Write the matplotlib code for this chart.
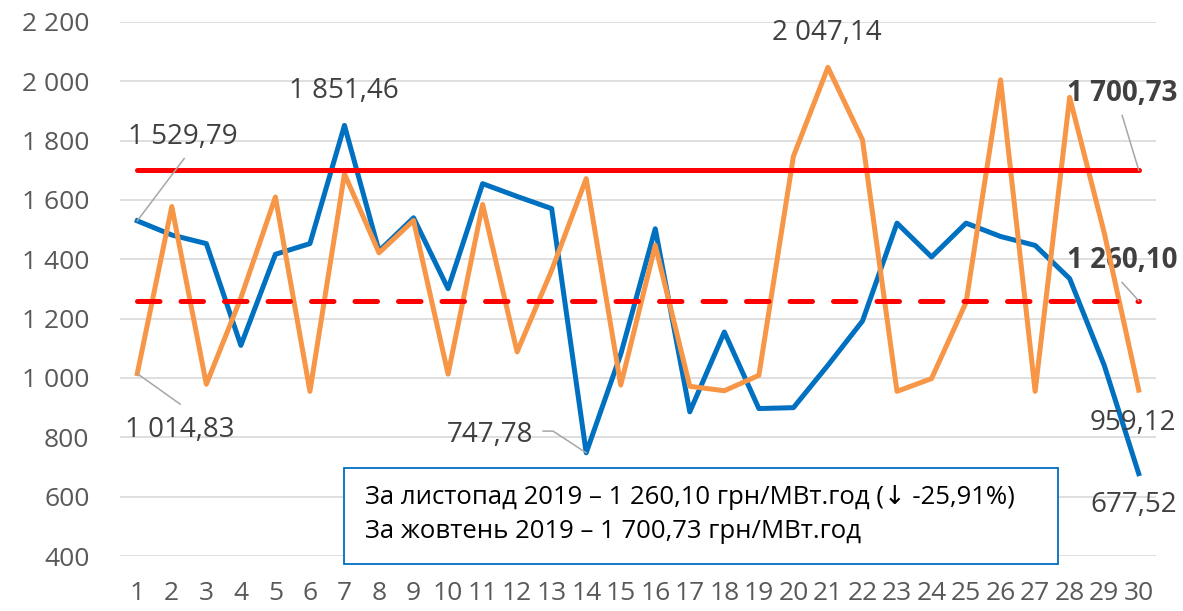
import matplotlib
matplotlib.use("Agg")
import matplotlib.pyplot as plt
from matplotlib.patches import Rectangle

# ---- data ----
days = list(range(1, 31))
nov = [1529.79, 1482, 1453, 1110, 1417, 1453, 1851.46, 1428, 1540, 1301,
       1655, 1612, 1571, 747.78, 1080, 1503, 886, 1155, 897, 900,
       1043, 1192, 1522, 1408, 1522, 1477, 1447, 1335, 1043, 677.52]
octo = [1014.83, 1578, 979, 1270, 1610, 955, 1688, 1422, 1531, 1013,
        1585, 1088, 1363, 1672, 976, 1447, 972, 957, 1009, 1747,
        2047.14, 1803, 955, 998, 1255, 2005, 955, 1946, 1490, 959.12]
avg_oct = 1700.73
avg_nov = 1260.10
yticks = [400, 600, 800, 1000, 1200, 1400, 1600, 1800, 2000, 2200]
ytick_labels = ["400", "600", "800", "1 000", "1 200", "1 400", "1 600", "1 800", "2 000", "2 200"]
box_lines = ["За листопад 2019 – 1 260,10 грн/МВт.год (↓ -25,91%)",
             "За жовтень 2019 – 1 700,73 грн/МВт.год"]

plt.rcParams['font.family'] = ['Open Sans', 'DejaVu Sans']

W, H = 1183, 611
fig = plt.figure(figsize=(W / 100, H / 100), dpi=100)
ax = fig.add_axes([120 / W, 1 - 556 / H, (1156 - 120) / W, 534 / H])

blue = "#0070C0"
orange = "#F79646"
red = "#FF0000"

ax.plot(days, nov, color=blue, lw=3.6, solid_joinstyle='round', zorder=3, clip_on=False)
ax.plot(days, octo, color=orange, lw=3.6, solid_joinstyle='round', zorder=4, clip_on=False)
ax.plot([days[0], days[-1]], [avg_oct, avg_oct], color=red, lw=3.6,
        solid_capstyle='round', zorder=5)
ax.plot([days[0], days[-1]], [avg_nov, avg_nov], color=red, lw=3.6,
        dashes=(4.5, 4.2), dash_capstyle='round', zorder=5)

ax.set_xlim(0.5, 30.5)
ax.set_ylim(400, 2200)
ax.set_yticks(yticks)
ax.set_yticklabels(ytick_labels)
ax.set_xticks(days)
ax.set_xticklabels([str(d) for d in days])
ax.grid(axis='y', color='#D9D9D9', lw=1.2, zorder=0)
for s in ax.spines.values():
    s.set_visible(False)
ax.tick_params(axis='y', length=0, pad=22, labelsize=19, labelcolor='#595959')
ax.tick_params(axis='x', length=0, pad=18, labelsize=19, labelcolor='#595959')

lab = dict(fontsize=20, color='#404040', ha='center', va='center')
lead = dict(color='#A6A6A6', lw=1.1)

# labels with leaders
ax.text(2.33, 1811, "1 529,79", **lab)
ax.plot([1, 2.36], [nov[0], 1740], **lead, zorder=6)
ax.text(6.99, 1969, "1 851,46", **lab)
ax.text(20.98, 2164, "2 047,14", **lab)
ax.text(29.52, 1959, "1 700,73", fontweight='bold', **lab)
ax.plot([30, 29.52], [avg_oct, 1885], **lead, zorder=6)
ax.text(29.52, 1397, "1 260,10", fontweight='bold', **lab)
ax.plot([30, 29.52], [avg_nov, 1322], **lead, zorder=6)
ax.text(2.24, 824, "1 014,83", **lab)
ax.plot([1, 2.24], [octo[0], 912], **lead, zorder=6)
ax.text(11.22, 807, "747,78", **lab)
ax.plot([14, 13.04, 12.75], [nov[13], 821, 821], **lead, zorder=6)
ax.text(29.84, 848, "959,12", **lab)
ax.text(29.84, 572, "677,52", **lab)

# text box
fig.patches.append(Rectangle((344 / W, 1 - 564 / H), (1058 - 344) / W, 96 / H,
                             transform=fig.transFigure, facecolor='white',
                             edgecolor=blue, lw=1.3, zorder=10))
fig.text(365 / W, 1 - 497 / H, box_lines[0], fontsize=18.5, color='black',
         va='center', ha='left', zorder=11)
fig.text(365 / W, 1 - 532 / H, box_lines[1], fontsize=18.5, color='black',
         va='center', ha='left', zorder=11)

fig.savefig("out.png", dpi=100, facecolor='white')
